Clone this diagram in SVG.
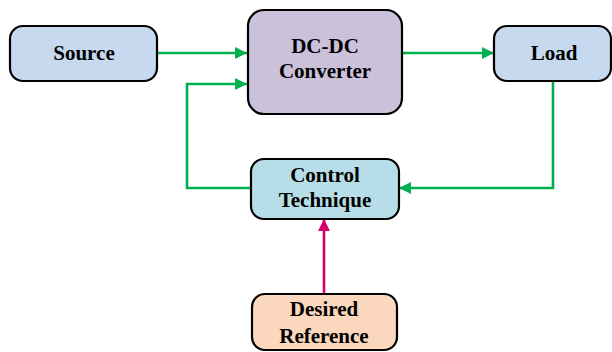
<svg xmlns="http://www.w3.org/2000/svg" width="612" height="352" viewBox="0 0 612 352">
  <style>
    .box { stroke: #000; stroke-width: 2.2; }
    .lbl { font-family: "Liberation Serif", "Times New Roman", serif; font-weight: bold; font-size: 21px; fill: #000; text-anchor: middle; }
    .g { fill: none; stroke: #00b050; stroke-width: 2.6; }
    .m { fill: none; stroke: #d4006e; stroke-width: 2.6; }
  </style>
  <defs>
    <marker id="ag" viewBox="0 0 10 10" refX="10" refY="5" markerWidth="4.6" markerHeight="4.6" markerUnits="strokeWidth" orient="auto">
      <path d="M0,0 L10,5 L0,10 z" fill="#00b050"/>
    </marker>
    <marker id="am" viewBox="0 0 10 10" refX="10" refY="5" markerWidth="4.6" markerHeight="4.6" markerUnits="strokeWidth" orient="auto">
      <path d="M0,0 L10,5 L0,10 z" fill="#d4006e"/>
    </marker>
  </defs>

  <g id="connectors">
    <path class="g" d="M157,53 H247" marker-end="url(#ag)"/>
    <path class="g" d="M402,53 H494" marker-end="url(#ag)"/>
    <path class="g" d="M553,82 V188 H399" marker-end="url(#ag)"/>
    <path class="g" d="M251,188 H187 V84 H247" marker-end="url(#ag)"/>
    <path class="m" d="M324,294 V219" marker-end="url(#am)"/>
  </g>

  <g id="source">
    <rect class="box" x="10" y="26" width="147" height="55" rx="13" fill="#c6d9ef"/>
    <text class="lbl" x="84" y="60">Source</text>
  </g>

  <g id="converter">
    <rect class="box" x="248" y="10" width="154" height="104" rx="16" fill="#ccc1da"/>
    <text class="lbl" x="325" y="53">DC-DC</text>
    <text class="lbl" x="325" y="78">Converter</text>
  </g>

  <g id="load">
    <rect class="box" x="494" y="26" width="117" height="55" rx="13" fill="#c6d9ef"/>
    <text class="lbl" x="554" y="60">Load</text>
  </g>

  <g id="control">
    <rect class="box" x="251" y="159" width="148" height="60" rx="13" fill="#b7dee8"/>
    <text class="lbl" x="325" y="182">Control</text>
    <text class="lbl" x="325" y="207">Technique</text>
  </g>

  <g id="reference">
    <rect class="box" x="252" y="294" width="145" height="56" rx="13" fill="#fbd7bd"/>
    <text class="lbl" x="324" y="316">Desired</text>
    <text class="lbl" x="324" y="343">Reference</text>
  </g>
</svg>
